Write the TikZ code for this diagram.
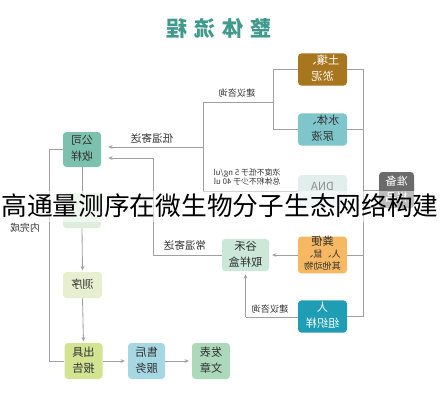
\documentclass[tikz,border=0pt]{standalone}
\usepackage{fontspec}
\setmainfont{Noto Sans CJK SC}
\usetikzlibrary{arrows.meta}
\newcommand\mir[1]{\reflectbox{\begin{tabular}{@{}c@{}}#1\end{tabular}}}
\newcommand\mirl[1]{\reflectbox{\begin{tabular}{@{}l@{}}#1\end{tabular}}}
\newcommand\px{0.25mm}
\definecolor{lc}{HTML}{A0A0A0}
\definecolor{tc}{HTML}{333333}
\definecolor{soilc}{HTML}{A8761F}
\definecolor{waterc}{HTML}{7EC6CB}
\definecolor{compc}{HTML}{7CC1AD}
\definecolor{hidc}{HTML}{DDEEDD}
\definecolor{seqc}{HTML}{E6EFD0}
\definecolor{repc}{HTML}{D2E392}
\definecolor{aftc}{HTML}{A6D8E4}
\definecolor{pubc}{HTML}{ABD9B9}
\definecolor{boxc}{HTML}{CBE7D8}
\definecolor{fecc}{HTML}{F6B863}
\definecolor{humc}{HTML}{1F9DB5}
\definecolor{dnac}{HTML}{E2EEEC}
\definecolor{prepc}{HTML}{6B6B6B}
\definecolor{titc}{HTML}{3F9A8C}
\begin{document}
\begin{tikzpicture}[x=0.25mm,y=-0.25mm,
  bx/.style n args={3}{fill=#1, rounded corners=2.5pt, minimum width=#2*\px, minimum height=#3*\px, inner sep=0pt, text=tc, font=\fontsize{8}{11.5}\selectfont},
  ln/.style={draw=lc, line width=0.6pt},
  arr/.style={ln, -{Stealth[length=3pt,width=2.6pt]}},
  lab/.style={text=tc, inner sep=0pt, font=\fontsize{6.5}{8}\selectfont}]
\useasboundingbox (0,0) rectangle (440,400);
\fill[white] (0,0) rectangle (440,400);
% title
\node[text=titc, font=\fontsize{15}{15}\selectfont\bfseries, inner sep=0pt] (title) at (219,28) {\reflectbox{整\hspace{5pt}体\hspace{5pt}流\hspace{5pt}程}};
% boxes
\node[bx={soilc}{49}{29}, text=white] (soil) at (322.5,69.5) {\mir{土壤、\\淤泥}};
\node[bx={waterc}{49}{29}] (water) at (322.5,129.5) {\mir{水体、\\尿液}};
\node[bx={compc}{38}{35}] (comp) at (82,149.5) {\mir{公司\\收样}};
\node[bx={hidc}{38}{35}] (hid) at (82,210.5) {};
\node[bx={seqc}{39}{26}] (seq) at (82.5,285) {\mir{测序}};
\node[bx={repc}{38}{36}] (rep) at (83.5,361) {\mir{出具\\报告}};
\node[bx={aftc}{37}{36}] (aft) at (146.5,361) {\mir{售后\\服务}};
\node[bx={pubc}{38}{36}] (pub) at (211,361) {\mir{发表\\文章}};
\node[bx={boxc}{47}{30}] (kit) at (245.5,255) {\mir{谷禾\\取样盒}};
\node[bx={fecc}{49}{36}, font=\fontsize{6.5}{8.5}\selectfont] (fec) at (322.5,255) {\mir{{\fontsize{8}{8.5}\selectfont 粪便}\\人、鼠、\\其他动物}};
\node[bx={humc}{49}{27}, text=white] (hum) at (322.5,316.5) {\mir{人\\组织样}};
\node[bx={dnac}{49}{32}, text=black!45] (dna) at (322.5,191) {\raisebox{6pt}{\reflectbox{DNA}}};
\node[bx={prepc}{35}{36}, text=white] (prep) at (396.5,190) {\mir{准备\\样品}};
% right bracket
\coordinate (rt) at (363,69.5);
\coordinate (rb) at (363,316.5);
\draw[ln] (soil.east) -- (rt) -- (rb) -- (hum.east);
\draw[ln] (water.east) -- (water.east -| rt);
\draw[ln] (fec.east) -- (fec.east -| rt);
\draw[ln] (prep.west) -- (prep.west -| rt);
% left bracket of soil / water
\coordinate (jx) at (273,102);
\draw[ln] (soil.west) -- (soil.west -| jx) -- (water.west -| jx) -- (water.west);
\coordinate (jl) at (203,102);
\coordinate (jd) at (203,191);
\draw[ln] (jx) -- (jl) -- (jd) -- (dna.west);
\node[lab] (l1) at (237,93) {\reflectbox{建议咨询}};
\coordinate (a1) at (203,147);
\draw[arr, shorten >=5pt] (a1) -- (a1 -| comp.east);
\node[lab, font=\fontsize{7.5}{8}\selectfont] (l2) at (152,138) {\reflectbox{低温寄送}};
% kit to company
\coordinate (kx) at (153,255);
\coordinate (ky) at (153,158);
\draw[ln] (kit.west) -- (kx) -- (ky);
\draw[arr, shorten >=5pt] (ky) -- (ky -| comp.east);
\node[lab, font=\fontsize{7.5}{8}\selectfont] (l3) at (185,245) {\reflectbox{常温寄送}};
\draw[arr, shorten >=2pt] (fec.west) -- (kit.east);
\coordinate (hx) at (245.5,317);
\draw[ln] (hum.west |- hx) -- (hx);
\draw[arr, shorten >=2pt] (hx) -- (kit.south);
\node[lab] (l4) at (270,309) {\reflectbox{建议咨询}};
% left column
\draw[ln] (comp.south) -- (hid.north);
\draw[arr, shorten >=1pt] (hid.south) -- (seq.north);
\draw[arr, shorten >=1pt] (seq.south) -- (rep.north);
\coordinate (lb) at (49,250);
\draw[ln] (comp.west) -- (comp.west -| lb) -- (rep.west -| lb) -- (rep.west);
\node[lab, font=\fontsize{7}{8}\selectfont] (l5) at (25,228) {\reflectbox{内完成}};
\draw[arr, shorten >=2pt] (rep.east) -- (aft.west);
\draw[arr, shorten >=2pt] (aft.east) -- (pub.west);
% DNA note
\node[lab, font=\fontsize{5.6}{7}\selectfont] (note) at (247,178) {\mirl{浓度不低于 5 ng/ul\\总体积不少于 40 ul}};
% caption overlay
\fill[white, opacity=0.55] (0,191) rectangle (440,222);
\node[inner sep=0pt, font=\fontsize{18.3}{18.3}\selectfont, text=black] (cap) at (220,206) {高通量测序在微生物分子生态网络构建};
\end{tikzpicture}
\end{document}
